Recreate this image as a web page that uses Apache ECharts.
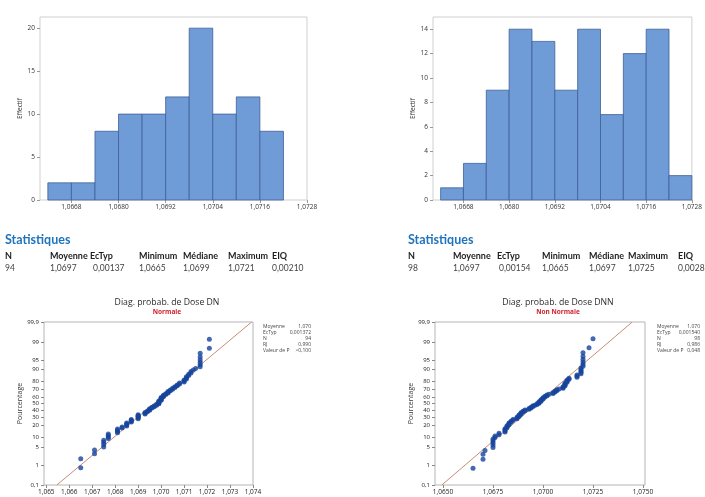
<!DOCTYPE html>
<html>
<head>
<meta charset="utf-8">
<script src="https://cdn.jsdelivr.net/npm/echarts@6/dist/echarts.min.js"></script>
<style>
  html, body { margin: 0; padding: 0; background: #fff; }
  #chart { width: 705px; height: 497px; }
</style>
</head>
<body>
<div id="chart"></div>
<script>
// ---- Histogram data: bin edges and counts ----
const binEdgesDN  = [1.0662, 1.0668, 1.0674, 1.0680, 1.0686, 1.0692, 1.0698, 1.0704, 1.0710, 1.0716, 1.0722];
const countsDN    = [2, 2, 8, 10, 10, 12, 20, 10, 12, 8];
const binEdgesDNN = [1.0662, 1.0668, 1.0674, 1.0680, 1.0686, 1.0692, 1.0698, 1.0704, 1.0710, 1.0716, 1.0722, 1.0728];
const countsDNN   = [1, 3, 9, 14, 13, 9, 14, 7, 12, 14, 2];
const histXTicks  = [1.0668, 1.0680, 1.0692, 1.0704, 1.0716, 1.0728];
const histYTicksDN  = [0, 5, 10, 15, 20];
const histYTicksDNN = [0, 2, 4, 6, 8, 10, 12, 14];

// ---- Individual dose measurements ----
const doseDN = [
  1.0665, 1.0665,
  1.0671, 1.0671,
  1.0675, 1.0675, 1.0675, 1.0675, 1.0677, 1.0677, 1.0677, 1.0677,
  1.0681, 1.0681, 1.0681, 1.0681, 1.0683, 1.0683, 1.0685, 1.0685, 1.0685, 1.0685,
  1.0687, 1.0687, 1.0687, 1.0687, 1.0690, 1.0690, 1.0690, 1.0690, 1.0690, 1.0690,
  1.0693, 1.0693, 1.0693, 1.0694, 1.0694, 1.0695, 1.0695, 1.0695, 1.0696, 1.0696, 1.0697, 1.0697,
  1.0698, 1.0698, 1.0699, 1.0699, 1.0699, 1.0699, 1.0699, 1.0700, 1.0700, 1.0700, 1.0700, 1.0700,
  1.0701, 1.0701, 1.0701, 1.0702, 1.0702, 1.0703, 1.0703, 1.0703,
  1.0704, 1.0704, 1.0705, 1.0705, 1.0706, 1.0706, 1.0707, 1.0707, 1.0708, 1.0708,
  1.0710, 1.0710, 1.0710, 1.0711, 1.0711, 1.0711, 1.0712, 1.0712, 1.0713, 1.0713, 1.0714, 1.0715,
  1.0717, 1.0717, 1.0717, 1.0717, 1.0717, 1.0717, 1.0721, 1.0721
];
const doseDNN = [
  1.0665,
  1.0670, 1.0670, 1.0671,
  1.0675, 1.0675, 1.0675, 1.0675, 1.0675, 1.0676, 1.0676, 1.0678, 1.0678,
  1.0681, 1.0681, 1.0681, 1.0681, 1.0682, 1.0682, 1.0682, 1.0683, 1.0683, 1.0683, 1.0684, 1.0684, 1.0685, 1.0685,
  1.0687, 1.0687, 1.0687, 1.0688, 1.0688, 1.0688, 1.0689, 1.0689, 1.0689, 1.0690, 1.0690, 1.0691, 1.0691,
  1.0693, 1.0693, 1.0694, 1.0694, 1.0695, 1.0695, 1.0696, 1.0697, 1.0697,
  1.0698, 1.0698, 1.0698, 1.0699, 1.0699, 1.0699, 1.0700, 1.0700, 1.0700, 1.0701, 1.0701, 1.0702, 1.0702, 1.0703,
  1.0705, 1.0705, 1.0706, 1.0706, 1.0707, 1.0707, 1.0708,
  1.0710, 1.0710, 1.0710, 1.0711, 1.0711, 1.0711, 1.0711, 1.0712, 1.0712, 1.0712, 1.0713, 1.0713,
  1.0717, 1.0717, 1.0717, 1.0719, 1.0719, 1.0719, 1.0719, 1.0719, 1.0720, 1.0720, 1.0720, 1.0720, 1.0720, 1.0720,
  1.0723, 1.0725
];

// ---- Probability plot scales ----
const probTicks      = [0.1, 1, 5, 10, 20, 30, 40, 50, 60, 70, 80, 90, 95, 99, 99.9];
const probTickLabels = ['0,1', '1', '5', '10', '20', '30', '40', '50', '60', '70', '80', '90', '95', '99', '99,9'];
const probXTicksDN   = [1.065, 1.066, 1.067, 1.068, 1.069, 1.070, 1.071, 1.072, 1.073, 1.074];
const probXTicksDNN  = [1.0650, 1.0675, 1.0700, 1.0725, 1.0750];
const fitDN  = { mean: 1.0697, sd: 0.001372 };
const fitDNN = { mean: 1.0697, sd: 0.001540 };

// ---- Summary tables ----
const statsHeaders = ['N', 'Moyenne', 'EcTyp', 'Minimum', 'Médiane', 'Maximum', 'EIQ'];
const statsDN  = ['94', '1,0697', '0,00137', '1,0665', '1,0699', '1,0721', '0,00210'];
const statsDNN = ['98', '1,0697', '0,00154', '1,0665', '1,0697', '1,0725', '0,0028'];
const legendKeys = ['Moyenne', 'EcTyp', 'N', 'RJ', 'Valeur de P'];
const legendDN   = ['1,070', '0,001372', '94', '0,990', '>0,100'];
const legendDNN  = ['1,070', '0,001540', '98', '0,986', '0,048'];

// Inverse standard normal CDF (Acklam's rational approximation)
function normInv(p) {
  const a = [-3.969683028665376e+01, 2.209460984245205e+02, -2.759285104469687e+02, 1.383577518672690e+02, -3.066479806614716e+01, 2.506628277459239e+00];
  const b = [-5.447609879822406e+01, 1.615858368580409e+02, -1.556989798598866e+02, 6.680131188771972e+01, -1.328068155288572e+01];
  const c = [-7.784894002430293e-03, -3.223964580411365e-01, -2.400758277161838e+00, -2.549732539343734e+00, 4.374664141464968e+00, 2.938163982698783e+00];
  const d = [7.784695709041462e-03, 3.224671290700398e-01, 2.445134137142996e+00, 3.754408661907416e+00];
  const pl = 0.02425, ph = 1 - pl;
  let q, r;
  if (p < pl) {
    q = Math.sqrt(-2 * Math.log(p));
    return (((((c[0]*q+c[1])*q+c[2])*q+c[3])*q+c[4])*q+c[5]) / ((((d[0]*q+d[1])*q+d[2])*q+d[3])*q+1);
  }
  if (p <= ph) {
    q = p - 0.5; r = q * q;
    return (((((a[0]*r+a[1])*r+a[2])*r+a[3])*r+a[4])*r+a[5])*q / (((((b[0]*r+b[1])*r+b[2])*r+b[3])*r+b[4])*r+1);
  }
  q = Math.sqrt(-2 * Math.log(1 - p));
  return -(((((c[0]*q+c[1])*q+c[2])*q+c[3])*q+c[4])*q+c[5]) / ((((d[0]*q+d[1])*q+d[2])*q+d[3])*q+1);
}

const zMin = normInv(0.001), zMax = normInv(0.999);
const probZ = probTicks.map(p => normInv(p / 100));
const zPad = 1e-6;

// Median-rank plotting positions
function probPoints(values) {
  const s = values.slice().sort((x, y) => x - y);
  const n = s.length;
  return s.map((v, i) => [v, normInv((i + 1 - 0.3) / (n + 0.4))]);
}
function fitLine(f) {
  return [[f.mean + zMin * f.sd, zMin], [f.mean + zMax * f.sd, zMax]];
}
function histData(edges, counts) {
  return counts.map((c, i) => [edges[i], edges[i + 1], c]);
}

const FONT = 'Open Sans';
const TABLE_FONT = 'Lato';
const BAR_FILL = '#6f9bd6';
const BAR_EDGE = '#3f5f98';
const DOT = '#15449c';

function renderBar(params, api) {
  const p0 = api.coord([api.value(0), 0]);
  const p1 = api.coord([api.value(1), api.value(2)]);
  return {
    type: 'rect',
    shape: { x: p0[0], y: p1[1], width: p1[0] - p0[0], height: p0[1] - p1[1] },
    style: { fill: BAR_FILL, stroke: BAR_EDGE, lineWidth: 0.8 }
  };
}

function histX(idx) {
  return {
    type: 'value', gridIndex: idx, min: 1.0660, max: 1.0728,
    axisLine: { show: false, onZero: false }, splitLine: { show: false },
    axisTick: { show: true, length: 3, customValues: histXTicks, lineStyle: { color: '#999' } },
    axisLabel: {
      customValues: histXTicks, fontSize: 6.5, color: '#333', fontFamily: FONT, margin: 4,
      formatter: v => v.toFixed(4).replace('.', ',')
    }
  };
}
function histY(idx, max, ticks) {
  return {
    type: 'value', gridIndex: idx, min: 0, max: max,
    name: 'Effectif', nameLocation: 'middle', nameGap: 14, nameRotate: 90,
    nameTextStyle: { fontSize: 6.5, color: '#333', fontFamily: FONT },
    axisLine: { show: false, onZero: false }, splitLine: { show: false },
    axisTick: { show: true, length: 3, customValues: ticks, lineStyle: { color: '#999' } },
    axisLabel: { customValues: ticks, fontSize: 6.5, color: '#333', fontFamily: FONT, margin: 5 }
  };
}
function probX(idx, min, max, ticks, digits) {
  return {
    type: 'value', gridIndex: idx, min: min, max: max,
    axisLine: { show: false, onZero: false }, splitLine: { show: false },
    axisTick: { show: true, length: 3, customValues: ticks, lineStyle: { color: '#888' } },
    axisLabel: {
      customValues: ticks, fontSize: 6.5, color: '#222', fontFamily: FONT, margin: 4,
      formatter: v => v.toFixed(digits).replace('.', ',')
    }
  };
}
function probY(idx, gap) {
  return {
    type: 'value', gridIndex: idx, min: zMin - zPad, max: zMax + zPad,
    name: 'Pourcentage', nameLocation: 'middle', nameGap: gap, nameRotate: 90,
    nameTextStyle: { fontSize: 7, color: '#333', fontFamily: FONT },
    axisLine: { show: false, onZero: false }, splitLine: { show: false },
    axisTick: { show: true, length: 3, customValues: probZ, lineStyle: { color: '#888' } },
    axisLabel: {
      customValues: probZ, fontSize: 6, color: '#222', fontFamily: FONT, margin: 5,
      showMinLabel: true, showMaxLabel: true,
      formatter: v => {
        let best = 0;
        probZ.forEach((z, i) => { if (Math.abs(z - v) < Math.abs(probZ[best] - v)) best = i; });
        return probTickLabels[best];
      }
    }
  };
}

// Text blocks: summary tables, plot titles, fit legends
const graphics = [];
function txt(x, y, text, size, opts) {
  graphics.push({
    type: 'text', x: x, y: y, silent: true,
    style: Object.assign({
      text: text, fontSize: size, fontFamily: FONT, fill: '#333',
      align: 'left', verticalAlign: 'middle'
    }, opts || {})
  });
}
function statsTable(x0, cols, valueCols, headers, values) {
  txt(x0, 240, 'Statistiques', 12.5, { fontFamily: TABLE_FONT, fontWeight: 'bold', fill: '#1f74bd' });
  headers.forEach((h, i) => txt(cols[i], 256, h, 9, { fontFamily: TABLE_FONT, fontWeight: 'bold', fill: '#1e1e1e' }));
  values.forEach((v, i) => txt(valueCols[i], 268.5, v, 8.5, { fontFamily: TABLE_FONT, fill: '#444' }));
}
statsTable(5, [5, 50, 90, 139, 183, 228, 272], [5, 50, 93, 139, 183, 228, 272], statsHeaders, statsDN);
statsTable(408, [408, 453, 497, 542, 589, 628, 678], [408, 453, 499, 542, 589, 628, 678], statsHeaders, statsDNN);

txt(167, 303, 'Diag. probab. de Dose DN', 8.7, { align: 'center', fill: '#2a2a2a' });
txt(167, 312, 'Normale', 6.5, { align: 'center', fontWeight: 'bold', fill: '#d0202e' });
txt(558, 303, 'Diag. probab. de Dose DNN', 8.7, { align: 'center', fill: '#2a2a2a' });
txt(558, 312, 'Non Normale', 6.5, { align: 'center', fontWeight: 'bold', fill: '#d0202e' });

function fitLegend(xl, xr, values) {
  legendKeys.forEach((k, i) => {
    const y = 327 + i * 6;
    txt(xl, y, k, 5, { fill: '#444' });
    txt(xr, y, values[i], 5, { fill: '#444', align: 'right' });
  });
}
fitLegend(263, 311, legendDN);
fitLegend(657, 700, legendDNN);

const chart = echarts.init(document.getElementById('chart'), null, { renderer: 'canvas' });
chart.setOption({
  animation: false,
  backgroundColor: '#ffffff',
  grid: [
    { left: 40,  top: 17,  width: 267, height: 183, show: true, borderColor: '#cfcfcf', borderWidth: 1, backgroundColor: '#fff' },
    { left: 433, top: 17,  width: 266, height: 183, show: true, borderColor: '#cfcfcf', borderWidth: 1, backgroundColor: '#fff' },
    { left: 44,  top: 322, width: 209, height: 163, show: true, borderColor: '#b5b5b5', borderWidth: 1, backgroundColor: '#fff' },
    { left: 435, top: 322, width: 210, height: 163, show: true, borderColor: '#b5b5b5', borderWidth: 1, backgroundColor: '#fff' }
  ],
  xAxis: [
    histX(0), histX(1),
    probX(2, 1.0649, 1.0740, probXTicksDN, 3),
    probX(3, 1.0646, 1.0751, probXTicksDNN, 4)
  ],
  yAxis: [
    histY(0, 21.3, histYTicksDN),
    histY(1, 15, histYTicksDNN),
    probY(2, 18),
    probY(3, 17)
  ],
  series: [
    { type: 'custom', xAxisIndex: 0, yAxisIndex: 0, renderItem: renderBar, encode: { x: [0, 1], y: 2 }, data: histData(binEdgesDN, countsDN) },
    { type: 'custom', xAxisIndex: 1, yAxisIndex: 1, renderItem: renderBar, encode: { x: [0, 1], y: 2 }, data: histData(binEdgesDNN, countsDNN) },
    { type: 'line', xAxisIndex: 2, yAxisIndex: 2, data: fitLine(fitDN), symbol: 'none', lineStyle: { color: '#c98a78', width: 1 }, z: 1 },
    { type: 'line', xAxisIndex: 3, yAxisIndex: 3, data: fitLine(fitDNN), symbol: 'none', lineStyle: { color: '#c98a78', width: 1 }, z: 1 },
    { type: 'scatter', xAxisIndex: 2, yAxisIndex: 2, data: probPoints(doseDN), symbolSize: 5, itemStyle: { color: DOT }, z: 3 },
    { type: 'scatter', xAxisIndex: 3, yAxisIndex: 3, data: probPoints(doseDNN), symbolSize: 5, itemStyle: { color: DOT }, z: 3 }
  ],
  graphic: graphics
});
</script>
</body>
</html>
